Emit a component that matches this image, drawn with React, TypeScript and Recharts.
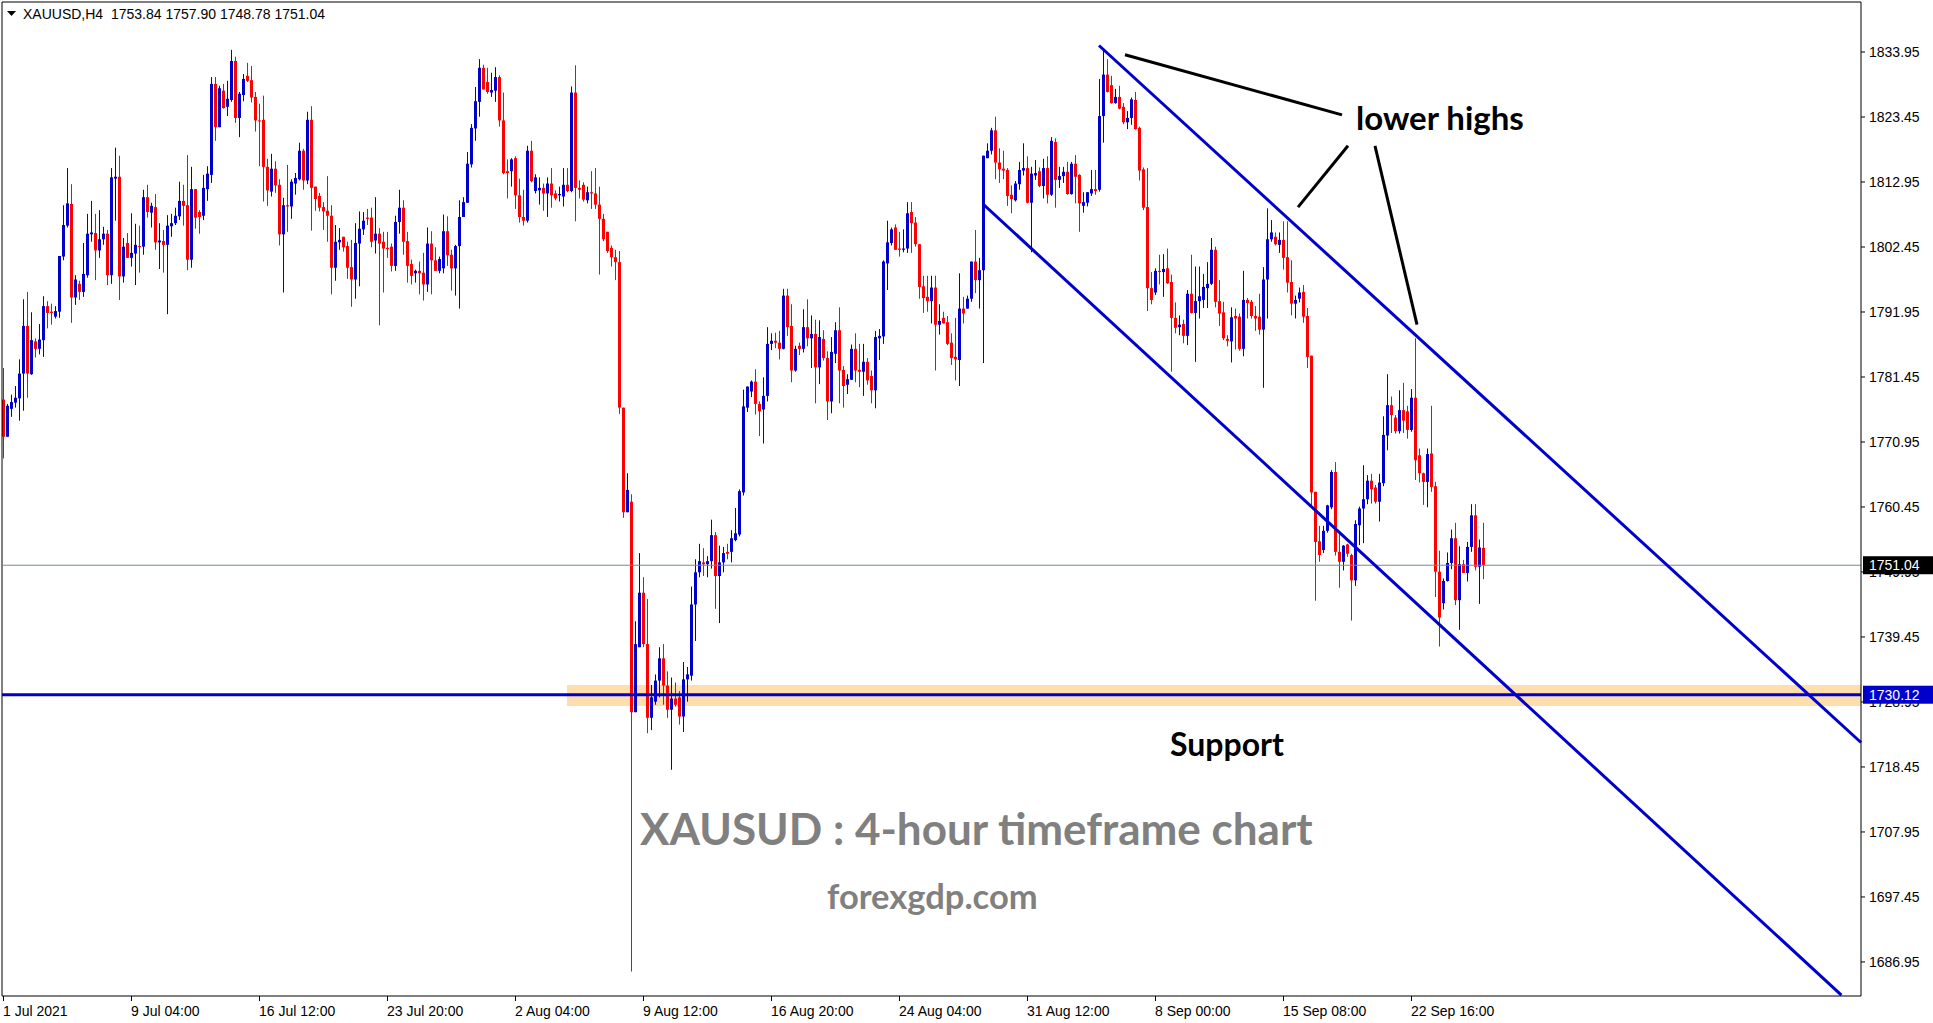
import { Bar, ComposedChart, ReferenceArea, ReferenceLine, XAxis, YAxis } from "recharts";

// XAUUSD H4 candles, 1 Jul 2021 -> 24 Sep 2021
const open = [
  1777.8, 1771.8, 1776.3, 1777.3, 1778.0, 1782.0, 1789.7, 1781.9, 1787.2, 1786.0,
  1787.4, 1792.9, 1792.0, 1791.2, 1792.0, 1800.9, 1805.9, 1809.4, 1794.3, 1796.5,
  1795.2, 1797.9, 1804.5, 1804.7, 1801.9, 1803.7, 1804.6, 1797.9, 1813.5, 1813.8,
  1797.7, 1803.1, 1800.7, 1801.4, 1802.6, 1802.5, 1810.5, 1808.0, 1808.9, 1803.2,
  1803.4, 1802.8, 1805.8, 1806.3, 1807.4, 1809.9, 1809.2, 1800.4, 1811.8, 1808.1,
  1807.5, 1811.8, 1814.1, 1828.8, 1821.8, 1827.7, 1825.1, 1826.2, 1832.5, 1823.3,
  1827.0, 1830.1,
  1829.4, 1826.7, 1822.9, 1823.0, 1815.4, 1811.4, 1815.1, 1812.5, 1804.5, 1809.2,
  1809.0, 1812.7, 1813.4, 1818.0, 1813.2, 1823.0, 1812.2, 1810.7, 1808.9, 1808.3,
  1807.5, 1799.1, 1803.2, 1804.1, 1802.6, 1799.2, 1797.2, 1803.0, 1805.3, 1807.2,
  1807.2, 1803.5, 1804.6, 1803.3, 1802.3, 1802.5, 1799.4, 1806.5, 1808.8, 1803.4,
  1799.7, 1798.2, 1798.6, 1798.3, 1796.4, 1803.0, 1800.3, 1798.6, 1799.0, 1805.0,
  1801.2, 1799.0, 1802.6, 1807.3, 1809.6, 1815.8, 1821.6, 1825.9, 1831.4, 1829.1,
  1827.4, 1827.7, 1829.9,
  1822.9, 1814.7, 1814.7, 1816.8, 1810.8, 1807.3, 1806.7, 1818.0, 1811.5, 1811.6,
  1812.0, 1811.1, 1812.7, 1811.1, 1810.8, 1810.6, 1812.5, 1811.5, 1827.4, 1812.0,
  1812.5, 1810.0, 1811.3, 1811.1, 1809.3, 1807.0, 1804.9, 1802.3, 1800.8, 1800.0,
  1776.5, 1759.6, 1761.3, 1727.3, 1737.8, 1746.6, 1738.3, 1726.4, 1729.0, 1732.4,
  1736.0, 1731.6, 1727.7, 1729.5, 1729.7, 1726.6, 1732.6, 1733.2, 1744.7, 1749.9,
  1751.5, 1751.2, 1751.7, 1755.9, 1749.3, 1751.5, 1753.2, 1753.2, 1755.1, 1756.0,
  1762.8, 1776.5,
  1779.1, 1780.7, 1777.1, 1776.2, 1778.4, 1786.8, 1787.3, 1787.0, 1786.0, 1794.6,
  1789.7, 1782.5, 1786.5, 1786.0, 1789.5, 1787.7, 1788.4, 1783.0, 1787.6, 1784.5,
  1777.5, 1785.2, 1789.0, 1782.6, 1780.2, 1781.0, 1786.0, 1782.6, 1782.3, 1783.9,
  1781.6, 1779.3, 1787.7, 1788.0, 1799.8, 1803.1, 1805.6, 1802.2, 1802.0, 1802.2,
  1808.1, 1806.4, 1802.9, 1796.1, 1794.4, 1793.7, 1795.9, 1789.9, 1791.0, 1790.3,
  1787.0, 1784.7, 1784.2, 1792.5, 1792.5, 1794.1, 1800.1, 1797.1, 1798.7, 1816.8,
  1818.0, 1821.3, 1816.1,
  1815.1, 1814.9, 1810.9, 1810.0, 1812.6, 1814.8, 1815.2, 1809.6, 1814.0, 1814.7,
  1812.3, 1815.2, 1810.9, 1819.4, 1813.3, 1813.9, 1814.6, 1811.0, 1815.9, 1814.1,
  1809.1, 1809.6, 1811.1, 1811.8, 1811.7, 1823.6, 1830.3, 1828.6, 1825.7, 1826.7,
  1825.1, 1822.6, 1823.3, 1826.2, 1821.7, 1815.0, 1808.9, 1795.8, 1795.1, 1798.6,
  1798.4, 1799.0, 1796.8, 1791.0, 1789.5, 1790.0, 1788.1, 1794.9, 1791.8, 1793.7,
  1793.9, 1795.8, 1796.5, 1802.0, 1793.7, 1791.9, 1787.6, 1787.2, 1791.3, 1791.2,
  1786.0, 1793.9,
  1793.6, 1791.3, 1791.2, 1789.1, 1797.2, 1803.7, 1804.1, 1802.8, 1803.6, 1800.8,
  1796.8, 1793.3, 1794.1, 1795.2, 1791.3, 1784.9, 1762.9, 1754.9, 1753.5, 1756.6,
  1760.4, 1766.1, 1753.2, 1751.6, 1754.4, 1752.7, 1748.6, 1757.5, 1760.2, 1761.7,
  1764.7, 1763.6, 1761.3, 1764.3, 1772.0, 1776.9, 1774.9, 1772.7, 1776.1, 1775.9,
  1772.9, 1778.1, 1768.8, 1765.9, 1764.5, 1769.1, 1763.8, 1750.0, 1744.9, 1748.5,
  1751.4, 1755.4, 1745.4, 1751.2, 1749.8, 1754.0, 1759.1, 1750.8, 1753.84,
];

const high = [
  1782.9, 1777.1, 1778.6, 1780.0, 1784.3, 1794.0, 1795.2, 1791.9, 1787.7, 1790.0,
  1794.5, 1793.7, 1793.3, 1792.9, 1801.0, 1809.2, 1815.2, 1812.6, 1797.9, 1797.0,
  1803.1, 1807.8, 1809.9, 1807.8, 1808.4, 1805.7, 1805.2, 1815.2, 1818.5, 1817.2,
  1803.9, 1804.7, 1807.9, 1806.2, 1805.9, 1811.7, 1812.5, 1809.6, 1811.0, 1806.3,
  1805.2, 1807.6, 1807.8, 1808.8, 1813.0, 1812.5, 1817.3, 1815.4, 1811.8, 1808.4,
  1814.1, 1815.5, 1829.9, 1829.9, 1828.5, 1828.8, 1829.3, 1834.3, 1833.2, 1827.5,
  1830.4, 1832.2,
  1831.7, 1827.5, 1825.6, 1826.9, 1816.7, 1817.5, 1816.3, 1813.4, 1810.4, 1815.7,
  1813.4, 1814.4, 1819.3, 1818.3, 1824.3, 1825.2, 1812.2, 1811.2, 1809.7, 1813.9,
  1809.2, 1806.0, 1805.5, 1804.1, 1803.3, 1803.6, 1806.3, 1808.2, 1808.1, 1808.6,
  1808.8, 1810.5, 1805.5, 1804.9, 1804.9, 1803.0, 1807.5, 1811.7, 1810.0, 1804.9,
  1800.4, 1798.8, 1800.1, 1801.5, 1805.6, 1805.0, 1802.4, 1800.9, 1807.7, 1807.4,
  1802.0, 1802.8, 1810.0, 1810.5, 1817.8, 1822.3, 1828.3, 1832.8, 1831.9, 1831.4,
  1830.6, 1831.5, 1830.2,
  1827.4, 1816.6, 1816.8, 1817.1, 1813.5, 1811.7, 1818.8, 1819.6, 1814.2, 1813.7,
  1812.7, 1813.7, 1815.2, 1811.6, 1812.2, 1815.2, 1815.2, 1828.4, 1831.8, 1813.2,
  1812.9, 1812.2, 1814.7, 1815.2, 1812.2, 1807.8, 1804.9, 1802.7, 1802.0, 1801.8,
  1776.5, 1765.9, 1762.5, 1742.0, 1753.0, 1749.1, 1745.6, 1731.7, 1733.4, 1737.8,
  1738.3, 1733.9, 1732.9, 1732.1, 1730.7, 1735.4, 1734.6, 1747.6, 1752.0, 1754.5,
  1753.8, 1752.5, 1758.4, 1756.4, 1754.2, 1754.0, 1754.5, 1756.7, 1760.3, 1763.3,
  1779.4, 1779.9,
  1780.9, 1782.7, 1777.5, 1781.4, 1789.5, 1788.5, 1788.6, 1788.9, 1795.7, 1795.7,
  1793.2, 1786.5, 1787.0, 1792.4, 1794.0, 1791.4, 1790.7, 1790.6, 1789.0, 1785.6,
  1787.9, 1790.3, 1792.7, 1783.2, 1781.9, 1786.7, 1788.5, 1786.8, 1786.8, 1784.5,
  1782.5, 1788.9, 1789.2, 1800.3, 1806.7, 1805.6, 1806.1, 1804.9, 1805.3, 1809.7,
  1809.7, 1807.3, 1802.9, 1797.8, 1797.8, 1797.8, 1797.8, 1793.2, 1792.0, 1791.3,
  1788.5, 1791.0, 1798.2, 1794.4, 1794.6, 1800.1, 1805.2, 1800.7, 1817.2, 1819.2,
  1821.7, 1823.5, 1818.4,
  1818.0, 1815.2, 1812.4, 1813.1, 1816.2, 1819.2, 1817.1, 1815.4, 1816.5, 1815.3,
  1816.7, 1817.1, 1820.2, 1820.0, 1815.4, 1815.4, 1816.2, 1816.2, 1817.3, 1814.2,
  1811.3, 1811.3, 1814.9, 1814.9, 1829.6, 1834.3, 1832.8, 1830.1, 1828.0, 1828.5,
  1825.7, 1824.4, 1826.6, 1827.5, 1821.9, 1815.3, 1815.2, 1798.4, 1799.0, 1801.2,
  1801.3, 1802.2, 1798.0, 1793.5, 1791.4, 1790.7, 1795.5, 1801.2, 1799.3, 1799.3,
  1798.1, 1800.0, 1803.9, 1802.5, 1797.1, 1793.6, 1788.2, 1792.7, 1792.5, 1791.7,
  1798.6, 1794.2,
  1793.9, 1792.9, 1794.9, 1799.2, 1808.7, 1806.8, 1804.8, 1804.8, 1806.6, 1806.6,
  1800.3, 1794.6, 1795.9, 1796.3, 1792.6, 1784.9, 1762.9, 1757.4, 1757.4, 1760.8,
  1766.4, 1767.7, 1756.5, 1754.3, 1754.5, 1752.9, 1758.3, 1760.5, 1767.2, 1765.6,
  1765.8, 1764.0, 1765.8, 1775.1, 1781.9, 1778.3, 1775.3, 1779.3, 1780.5, 1776.8,
  1779.5, 1787.7, 1769.9, 1766.0, 1769.9, 1776.8, 1764.5, 1753.4, 1748.9, 1753.1,
  1756.8, 1757.9, 1754.1, 1751.9, 1754.8, 1760.9, 1760.9, 1755.2, 1757.9,
];

const low = [
  1768.3, 1771.8, 1775.0, 1776.5, 1774.4, 1776.0, 1778.1, 1781.8, 1784.6, 1785.1,
  1784.7, 1789.3, 1789.9, 1790.9, 1791.0, 1800.3, 1805.6, 1790.2, 1793.1, 1793.9,
  1794.4, 1797.5, 1803.3, 1797.1, 1800.7, 1802.8, 1796.3, 1796.5, 1806.7, 1793.9,
  1796.7, 1800.7, 1799.3, 1796.3, 1798.3, 1801.2, 1807.2, 1805.6, 1802.0, 1798.9,
  1798.3, 1791.6, 1804.1, 1806.0, 1806.8, 1805.9, 1798.7, 1799.1, 1805.4, 1804.6,
  1806.8, 1809.9, 1812.8, 1819.6, 1821.8, 1824.8, 1823.6, 1825.9, 1822.5, 1820.2,
  1826.0, 1829.1,
  1825.8, 1821.1, 1815.5, 1809.8, 1809.1, 1810.6, 1811.2, 1802.7, 1795.1, 1804.9,
  1807.0, 1810.9, 1813.2, 1811.7, 1812.6, 1805.1, 1808.3, 1808.2, 1805.2, 1803.3,
  1794.8, 1797.0, 1802.0, 1801.7, 1797.3, 1792.8, 1794.1, 1796.1, 1804.4, 1806.0,
  1802.4, 1801.4, 1789.8, 1795.1, 1800.7, 1798.5, 1798.6, 1804.6, 1801.2, 1796.7,
  1796.4, 1796.7, 1794.8, 1793.8, 1795.2, 1794.8, 1798.6, 1798.2, 1798.2, 1799.4,
  1795.4, 1794.6, 1792.5, 1807.3, 1809.6, 1815.3, 1819.6, 1823.5, 1827.9, 1827.2,
  1826.7, 1825.9, 1821.9,
  1814.2, 1810.3, 1812.2, 1808.6, 1806.4, 1805.9, 1806.4, 1812.9, 1811.1, 1809.3,
  1808.3, 1807.3, 1808.8, 1810.0, 1809.8, 1809.0, 1811.3, 1811.3, 1806.6, 1810.3,
  1809.8, 1809.5, 1808.6, 1808.6, 1798.0, 1803.4, 1801.5, 1799.3, 1797.1, 1775.5,
  1758.7, 1759.6, 1685.4, 1727.3, 1737.8, 1737.8, 1723.9, 1724.4, 1728.5, 1729.7,
  1728.5, 1726.4, 1718.0, 1728.2, 1725.3, 1724.1, 1729.0, 1732.4, 1738.8, 1749.1,
  1749.3, 1749.1, 1750.5, 1744.0, 1741.7, 1749.9, 1752.0, 1751.5, 1754.9, 1755.7,
  1762.3, 1775.8,
  1778.2, 1775.4, 1771.9, 1770.7, 1777.5, 1785.8, 1786.1, 1784.3, 1785.9, 1788.1,
  1780.6, 1782.3, 1785.0, 1785.4, 1786.4, 1782.9, 1777.2, 1780.3, 1784.1, 1774.5,
  1775.6, 1783.7, 1777.2, 1776.5, 1778.7, 1781.0, 1780.6, 1779.8, 1778.4, 1780.2,
  1777.2, 1776.4, 1784.2, 1786.8, 1795.5, 1802.7, 1802.0, 1800.9, 1801.6, 1801.5,
  1801.5, 1802.5, 1794.1, 1791.8, 1792.0, 1790.1, 1782.5, 1788.3, 1790.1, 1786.6,
  1783.4, 1780.9, 1780.0, 1790.1, 1792.5, 1793.6, 1795.0, 1792.5, 1783.7, 1816.8,
  1817.4, 1813.4, 1812.8,
  1813.4, 1809.1, 1807.9, 1809.8, 1811.7, 1814.0, 1809.5, 1801.6, 1813.3, 1812.1,
  1810.3, 1809.5, 1810.7, 1808.8, 1812.0, 1812.8, 1810.9, 1810.9, 1809.5, 1804.9,
  1808.0, 1809.0, 1810.7, 1810.9, 1811.4, 1819.3, 1827.4, 1825.6, 1825.6, 1824.7,
  1822.3, 1821.5, 1822.2, 1821.4, 1813.2, 1808.4, 1792.1, 1793.2, 1794.7, 1796.4,
  1794.4, 1796.5, 1782.3, 1788.5, 1788.2, 1786.9, 1786.6, 1791.7, 1783.9, 1790.9,
  1792.6, 1792.6, 1796.3, 1792.7, 1789.7, 1787.4, 1786.4, 1783.8, 1785.9, 1785.7,
  1784.8, 1790.9,
  1790.9, 1788.9, 1788.3, 1779.7, 1790.9, 1803.3, 1802.7, 1801.5, 1798.8, 1795.1,
  1791.4, 1790.9, 1793.5, 1790.2, 1782.9, 1760.5, 1745.3, 1751.6, 1753.0, 1756.3,
  1760.1, 1752.6, 1747.4, 1750.2, 1752.4, 1742.1, 1747.7, 1754.3, 1754.6, 1760.9,
  1761.0, 1761.0, 1758.1, 1763.8, 1769.6, 1772.4, 1772.3, 1772.3, 1772.4, 1771.5,
  1772.6, 1764.8, 1764.4, 1760.8, 1760.4, 1762.9, 1745.9, 1737.9, 1743.9, 1748.4,
  1750.4, 1744.6, 1740.6, 1749.8, 1748.4, 1753.2, 1750.2, 1744.8, 1748.78,
];

const close = [
  1771.8, 1776.8, 1777.4, 1778.1, 1782.0, 1789.7, 1782.0, 1787.4, 1786.0, 1787.5,
  1792.9, 1791.8, 1791.8, 1792.1, 1801.0, 1806.0, 1809.5, 1794.3, 1797.2, 1795.2,
  1798.1, 1804.6, 1804.8, 1801.9, 1803.7, 1804.6, 1797.9, 1813.7, 1813.8, 1797.7,
  1802.5, 1800.7, 1801.5, 1802.8, 1802.5, 1810.5, 1808.1, 1809.1, 1803.2, 1803.5,
  1802.8, 1805.9, 1806.3, 1807.5, 1809.9, 1809.1, 1800.4, 1811.8, 1807.2, 1807.3,
  1812.0, 1814.3, 1828.8, 1821.8, 1828.1, 1824.9, 1826.4, 1832.5, 1823.3, 1827.2,
  1829.6, 1829.3,
  1826.6, 1822.9, 1822.8, 1815.4, 1811.6, 1815.1, 1812.4, 1804.5, 1809.2, 1809.0,
  1813.0, 1813.6, 1818.0, 1813.2, 1823.0, 1812.0, 1810.2, 1808.8, 1808.2, 1807.5,
  1799.1, 1803.3, 1803.6, 1802.4, 1799.1, 1797.2, 1803.1, 1805.4, 1806.7, 1807.0,
  1803.3, 1804.6, 1803.0, 1802.2, 1802.2, 1799.4, 1806.5, 1808.8, 1803.3, 1799.4,
  1797.8, 1798.6, 1798.2, 1796.4, 1803.0, 1800.3, 1798.6, 1800.5, 1805.0, 1801.1,
  1799.0, 1802.6, 1807.3, 1809.7, 1815.9, 1821.7, 1826.0, 1831.4, 1827.9, 1827.5,
  1827.8, 1829.9, 1822.9,
  1814.4, 1814.4, 1816.6, 1810.8, 1807.3, 1806.7, 1818.0, 1813.1, 1813.7, 1812.0,
  1811.1, 1812.7, 1810.8, 1810.3, 1811.0, 1812.5, 1811.5, 1827.4, 1812.0, 1811.7,
  1810.1, 1811.3, 1811.1, 1809.3, 1807.0, 1803.7, 1801.8, 1800.8, 1800.0, 1776.5,
  1759.6, 1763.2, 1727.3, 1738.3, 1746.6, 1738.3, 1726.4, 1729.7, 1732.4, 1736.0,
  1731.6, 1727.7, 1729.5, 1728.5, 1726.6, 1732.6, 1733.4, 1744.7, 1749.9, 1751.7,
  1751.2, 1751.7, 1755.9, 1749.3, 1751.5, 1753.0, 1752.9, 1755.4, 1756.2, 1763.0,
  1776.7, 1779.9,
  1780.7, 1777.1, 1775.9, 1778.4, 1786.8, 1787.3, 1787.0, 1786.0, 1794.6, 1789.5,
  1782.5, 1786.0, 1786.0, 1789.5, 1787.7, 1788.4, 1783.0, 1787.9, 1784.5, 1777.5,
  1785.5, 1789.0, 1782.5, 1780.0, 1781.1, 1786.0, 1782.5, 1782.3, 1783.9, 1780.9,
  1779.3, 1787.9, 1788.1, 1800.1, 1803.2, 1805.3, 1802.0, 1802.0, 1802.2, 1807.9,
  1806.3, 1802.9, 1796.0, 1794.2, 1793.7, 1795.9, 1789.9, 1790.5, 1790.1, 1786.8,
  1784.5, 1784.3, 1792.5, 1791.7, 1794.1, 1800.1, 1797.1, 1798.7, 1817.2, 1818.0,
  1821.3, 1816.1, 1815.0,
  1814.8, 1810.7, 1810.2, 1812.7, 1814.9, 1815.2, 1809.6, 1814.3, 1814.4, 1812.3,
  1815.2, 1810.9, 1819.6, 1813.3, 1813.9, 1814.6, 1811.0, 1815.9, 1813.8, 1809.5,
  1809.7, 1811.3, 1811.8, 1811.5, 1823.6, 1830.3, 1827.5, 1825.7, 1826.7, 1824.8,
  1822.6, 1823.3, 1826.3, 1821.5, 1814.8, 1808.8, 1795.8, 1793.9, 1798.6, 1798.4,
  1798.9, 1796.6, 1791.0, 1789.4, 1789.9, 1788.1, 1794.9, 1791.8, 1793.7, 1794.5,
  1796.0, 1796.5, 1802.0, 1793.6, 1791.7, 1787.7, 1787.3, 1791.1, 1790.9, 1786.0,
  1793.9, 1793.4,
  1791.3, 1790.9, 1789.1, 1797.2, 1803.7, 1804.8, 1802.9, 1803.6, 1800.7, 1796.7,
  1793.3, 1793.9, 1795.1, 1791.2, 1784.7, 1762.8, 1754.8, 1752.7, 1756.6, 1760.7,
  1766.1, 1753.2, 1751.6, 1754.2, 1752.9, 1748.6, 1757.7, 1760.2, 1761.7, 1764.7,
  1763.3, 1761.3, 1764.4, 1772.1, 1776.9, 1775.3, 1772.7, 1776.1, 1774.4, 1772.9,
  1778.1, 1768.0, 1765.9, 1764.5, 1769.0, 1763.7, 1750.0, 1742.6, 1748.5, 1751.4,
  1755.4, 1745.4, 1751.2, 1749.8, 1754.0, 1759.1, 1750.8, 1753.9, 1751.04,
];

// bottom axis: bar index of each time label
const timeTicks = [0, 32, 64, 96, 128, 160, 192, 224, 256, 288, 320, 352];
const timeLabels = [
  "1 Jul 2021", "9 Jul 04:00", "16 Jul 12:00", "23 Jul 20:00", "2 Aug 04:00", "9 Aug 12:00",
  "16 Aug 20:00", "24 Aug 04:00", "31 Aug 12:00", "8 Sep 00:00", "15 Sep 08:00", "22 Sep 16:00",
];

const priceTicks = [
  1833.95, 1823.45, 1812.95, 1802.45, 1791.95, 1781.45, 1770.95, 1760.45,
  1749.95, 1739.45, 1728.95, 1718.45, 1707.95, 1697.45, 1686.95,
];

const lastPrice = 1751.04;
const supportPrice = 1730.12;

// hand-drawn annotations, [bar index, price]
const upperChannel = [[274, 1835.0], [464.5, 1722.4]];
const lowerChannel = [[245, 1809.4], [459.6, 1681.6]];
const highsLines = [
  [[280.5, 1833.5], [334.75, 1823.8]],
  [[323.75, 1808.9], [336.25, 1818.8]],
  [[343, 1818.8], [353.5, 1789.9]],
];
const supportZone = { from: 141, low: 1728.3, high: 1731.7 };

const X_DOMAIN = [-0.25, 464.5];
const Y_DOMAIN = [1681.45, 1842.03];

const BULL = "#0000CD";
const BEAR = "#FF0000";
const AXIS_FONT = "'Liberation Sans', Arial, sans-serif";
const NOTE_FONT = "Lato, 'Open Sans', sans-serif";

const rows = open.map((o, i) => ({ i, o, h: high[i], l: low[i], c: close[i] }));

function Candle(props: any) {
  const { x, y, width, height, payload } = props;
  if (x == null || y == null) return null;
  const { o, h, l, c } = payload;
  const top = Math.min(y, y + height);
  const bottom = Math.max(y, y + height);
  const k = h > l ? (bottom - top) / (h - l) : 0;
  const cx = Math.round(x + width / 2);
  const bodyTop = top + (h - Math.max(o, c)) * k;
  const bodyBottom = top + (h - Math.min(o, c)) * k;
  const color = c >= o ? BULL : BEAR;
  return (
    <g>
      <line x1={cx + 0.5} x2={cx + 0.5} y1={top} y2={bottom} stroke={color} strokeWidth={1} />
      <rect
        x={cx - 1}
        y={bodyTop}
        width={3}
        height={Math.max(1, bodyBottom - bodyTop)}
        fill={color}
      />
    </g>
  );
}

function TimeTick(props: any) {
  const { x, y, payload } = props;
  const label = timeLabels[timeTicks.indexOf(payload.value)];
  return (
    <g>
      <line x1={x + 0.5} x2={x + 0.5} y1={y} y2={y + 5} stroke="#000" />
      <text x={x} y={y + 20} fontSize={14} fontFamily={AXIS_FONT} fill="#000">
        {label}
      </text>
    </g>
  );
}

function PriceTick(props: any) {
  const { x, y, payload } = props;
  const v = payload.value;
  if (v === lastPrice || v === supportPrice) {
    return (
      <g>
        <rect x={x + 2} y={y - 9} width={72} height={18} fill={v === lastPrice ? "#000" : BULL} />
        <text x={x + 8} y={y + 5} fontSize={14} fontFamily={AXIS_FONT} fill="#fff">
          {v.toFixed(2)}
        </text>
      </g>
    );
  }
  return (
    <g>
      <line x1={x} x2={x + 4} y1={y} y2={y} stroke="#000" />
      <text x={x + 8} y={y + 5} fontSize={14} fontFamily={AXIS_FONT} fill="#000">
        {v.toFixed(2)}
      </text>
    </g>
  );
}

const seg = (p: number[][]) => p.map(([x, y]) => ({ x, y }));

export default function App() {
  return (
    <div style={{ position: "absolute", left: 0, top: 0, width: 1933, height: 1023, background: "#fff" }}>
      <ComposedChart width={1933} height={1023} data={rows} margin={{ top: 2, right: 0, bottom: 0, left: 2 }}>
        <XAxis
          dataKey="i"
          type="number"
          domain={X_DOMAIN}
          allowDataOverflow
          ticks={timeTicks}
          interval={0}
          tick={<TimeTick />}
          tickLine={false}
          tickSize={0}
          tickMargin={0}
          height={27}
          axisLine={{ stroke: "#000" }}
        />
        <YAxis
          orientation="right"
          type="number"
          domain={Y_DOMAIN}
          allowDataOverflow
          ticks={[...priceTicks, lastPrice, supportPrice]}
          interval={0}
          tick={<PriceTick />}
          tickLine={false}
          tickSize={0}
          tickMargin={0}
          width={72}
          axisLine={{ stroke: "#000" }}
        />
        <ReferenceLine x={X_DOMAIN[0]} stroke="#000" />
        <ReferenceLine y={Y_DOMAIN[1]} stroke="#000" />
        <ReferenceArea
          x1={supportZone.from}
          x2={X_DOMAIN[1]}
          y1={supportZone.low}
          y2={supportZone.high}
          fill="#FFDEAD"
          fillOpacity={1}
          stroke="none"
        />
        <ReferenceLine y={lastPrice} stroke="#778899" strokeWidth={1} />
        <Bar
          dataKey={(d: any) => [d.l, d.h]}
          barSize={3}
          shape={(p: any) => <Candle {...p} />}
          isAnimationActive={false}
        />
        <ReferenceLine y={supportPrice} stroke={BULL} strokeWidth={3} />
        <ReferenceLine segment={seg(upperChannel)} stroke={BULL} strokeWidth={3} />
        <ReferenceLine segment={seg(lowerChannel)} stroke={BULL} strokeWidth={3} />
        {highsLines.map((l, k) => (
          <ReferenceLine key={k} segment={seg(l)} stroke="#000" strokeWidth={3} />
        ))}
      </ComposedChart>
      <svg width={1933} height={1023} style={{ position: "absolute", left: 0, top: 0, pointerEvents: "none" }}>
        <polygon points="7,11 16,11 11.5,16" fill="#000" />
        <text x={23} y={18.5} fontSize={14} fontFamily={AXIS_FONT} fill="#000" style={{ whiteSpace: "pre" }}>
          {"XAUUSD,H4  1753.84 1757.90 1748.78 1751.04"}
        </text>
        <text x={1356} y={130} fontSize={33} fontWeight={700} fontFamily={NOTE_FONT} fill="#000">
          lower highs
        </text>
        <text x={1170} y={756} fontSize={32} fontWeight={700} fontFamily={NOTE_FONT} fill="#000">
          Support
        </text>
        <text x={640} y={845} fontSize={44} fontWeight={700} fontFamily={NOTE_FONT} fill="#808080">
          XAUSUD : 4-hour timeframe chart
        </text>
        <text x={827} y={909} fontSize={34.5} fontWeight={700} fontFamily={NOTE_FONT} fill="#808080">
          forexgdp.com
        </text>
      </svg>
    </div>
  );
}
